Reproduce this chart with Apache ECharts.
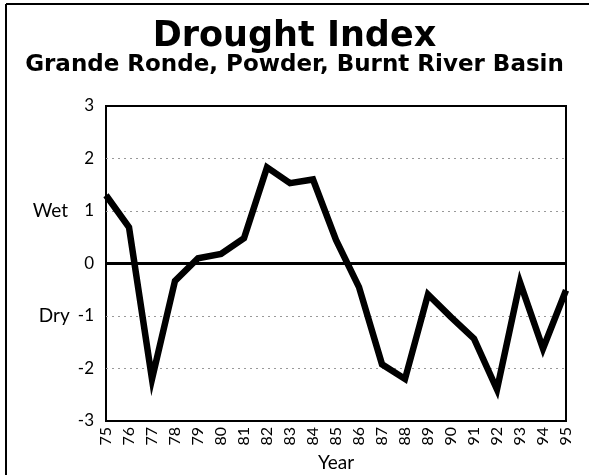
<!DOCTYPE html>
<html>
<head>
<meta charset="utf-8">
<script src="https://cdn.jsdelivr.net/npm/echarts@6/dist/echarts.min.js"></script>
<style>
  html, body { margin: 0; padding: 0; background: #fff; }
  #chart { width: 589px; height: 475px; }
</style>
</head>
<body>
<div id="chart"></div>
<script>
const years = ['75', '76', '77', '78', '79', '80', '81', '82', '83', '84', '85',
  '86', '87', '88', '89', '90', '91', '92', '93', '94', '95']
const droughtIndex = [1.3, 0.69, -2.2, -0.33, 0.1, 0.18, 0.48, 1.83, 1.53, 1.6, 0.45,
  -0.45, -1.92, -2.2, -0.59, -1.02, -1.43, -2.4, -0.36, -1.62, -0.51]
const yLabels = { '3': '3', '2': '2', '1': '{w|Wet}1', '0': '0', '-1': '{d|Dry}-1', '-2': '-2', '-3': '-3' }

const font = 'Lato, "Open Sans", sans-serif'
const titleFont = '"DejaVu Sans", Lato, sans-serif'
const chart = echarts.init(document.getElementById('chart'))

chart.setOption({
  animation: false,
  title: [
    {
      text: 'Drought Index',
      left: 'center',
      top: 14,
      textStyle: { color: '#000', fontSize: 35, fontWeight: 'bold', fontFamily: titleFont }
    },
    {
      text: 'Grande Ronde, Powder, Burnt River Basin',
      left: 'center',
      top: 49,
      textStyle: { color: '#000', fontSize: 23, fontWeight: 'bold', fontFamily: titleFont }
    }
  ],
  graphic: [
    { type: 'line', shape: { x1: 6, y1: 4, x2: 589, y2: 4 }, style: { stroke: '#000', lineWidth: 2 } },
    { type: 'line', shape: { x1: 6, y1: 4, x2: 6, y2: 475 }, style: { stroke: '#000', lineWidth: 2 } }
  ],
  grid: {
    left: 106, right: 23, top: 106, bottom: 54,
    outerBoundsMode: 'none',
    show: true, borderColor: '#000', borderWidth: 2
  },
  xAxis: {
    type: 'category',
    data: years,
    boundaryGap: false,
    name: 'Year',
    nameLocation: 'middle',
    nameGap: 32,
    nameMoveOverlap: false,
    nameTextStyle: { color: '#000', fontSize: 19, fontFamily: font },
    axisLine: { show: false },
    axisTick: { show: false },
    axisLabel: { color: '#000', fontSize: 16, fontFamily: font, rotate: 90, interval: 0, margin: 6 },
    splitLine: { show: false }
  },
  yAxis: {
    type: 'value',
    min: -3, max: 3, interval: 1,
    axisLine: { show: false },
    axisTick: { show: false },
    axisLabel: {
      color: '#000', fontSize: 17, fontFamily: font, margin: 12,
      formatter: (v) => yLabels[String(v)],
      rich: {
        w: { fontSize: 19, fontFamily: font, color: '#000', padding: [0, 16, 0, 0] },
        d: { fontSize: 19, fontFamily: font, color: '#000', padding: [0, 8, 0, 0] }
      }
    },
    splitLine: { showMinLine: false, showMaxLine: false, lineStyle: { color: '#999', type: [2, 4], width: 1 } }
  },
  series: [{
    type: 'line',
    data: droughtIndex,
    symbol: 'none',
    lineStyle: { color: '#000', width: 6.5, join: 'miter' },
    markLine: {
      silent: true,
      symbol: 'none',
      label: { show: false },
      lineStyle: { color: '#000', width: 3, type: 'solid' },
      data: [{ yAxis: 0 }]
    }
  }]
})
</script>
</body>
</html>
